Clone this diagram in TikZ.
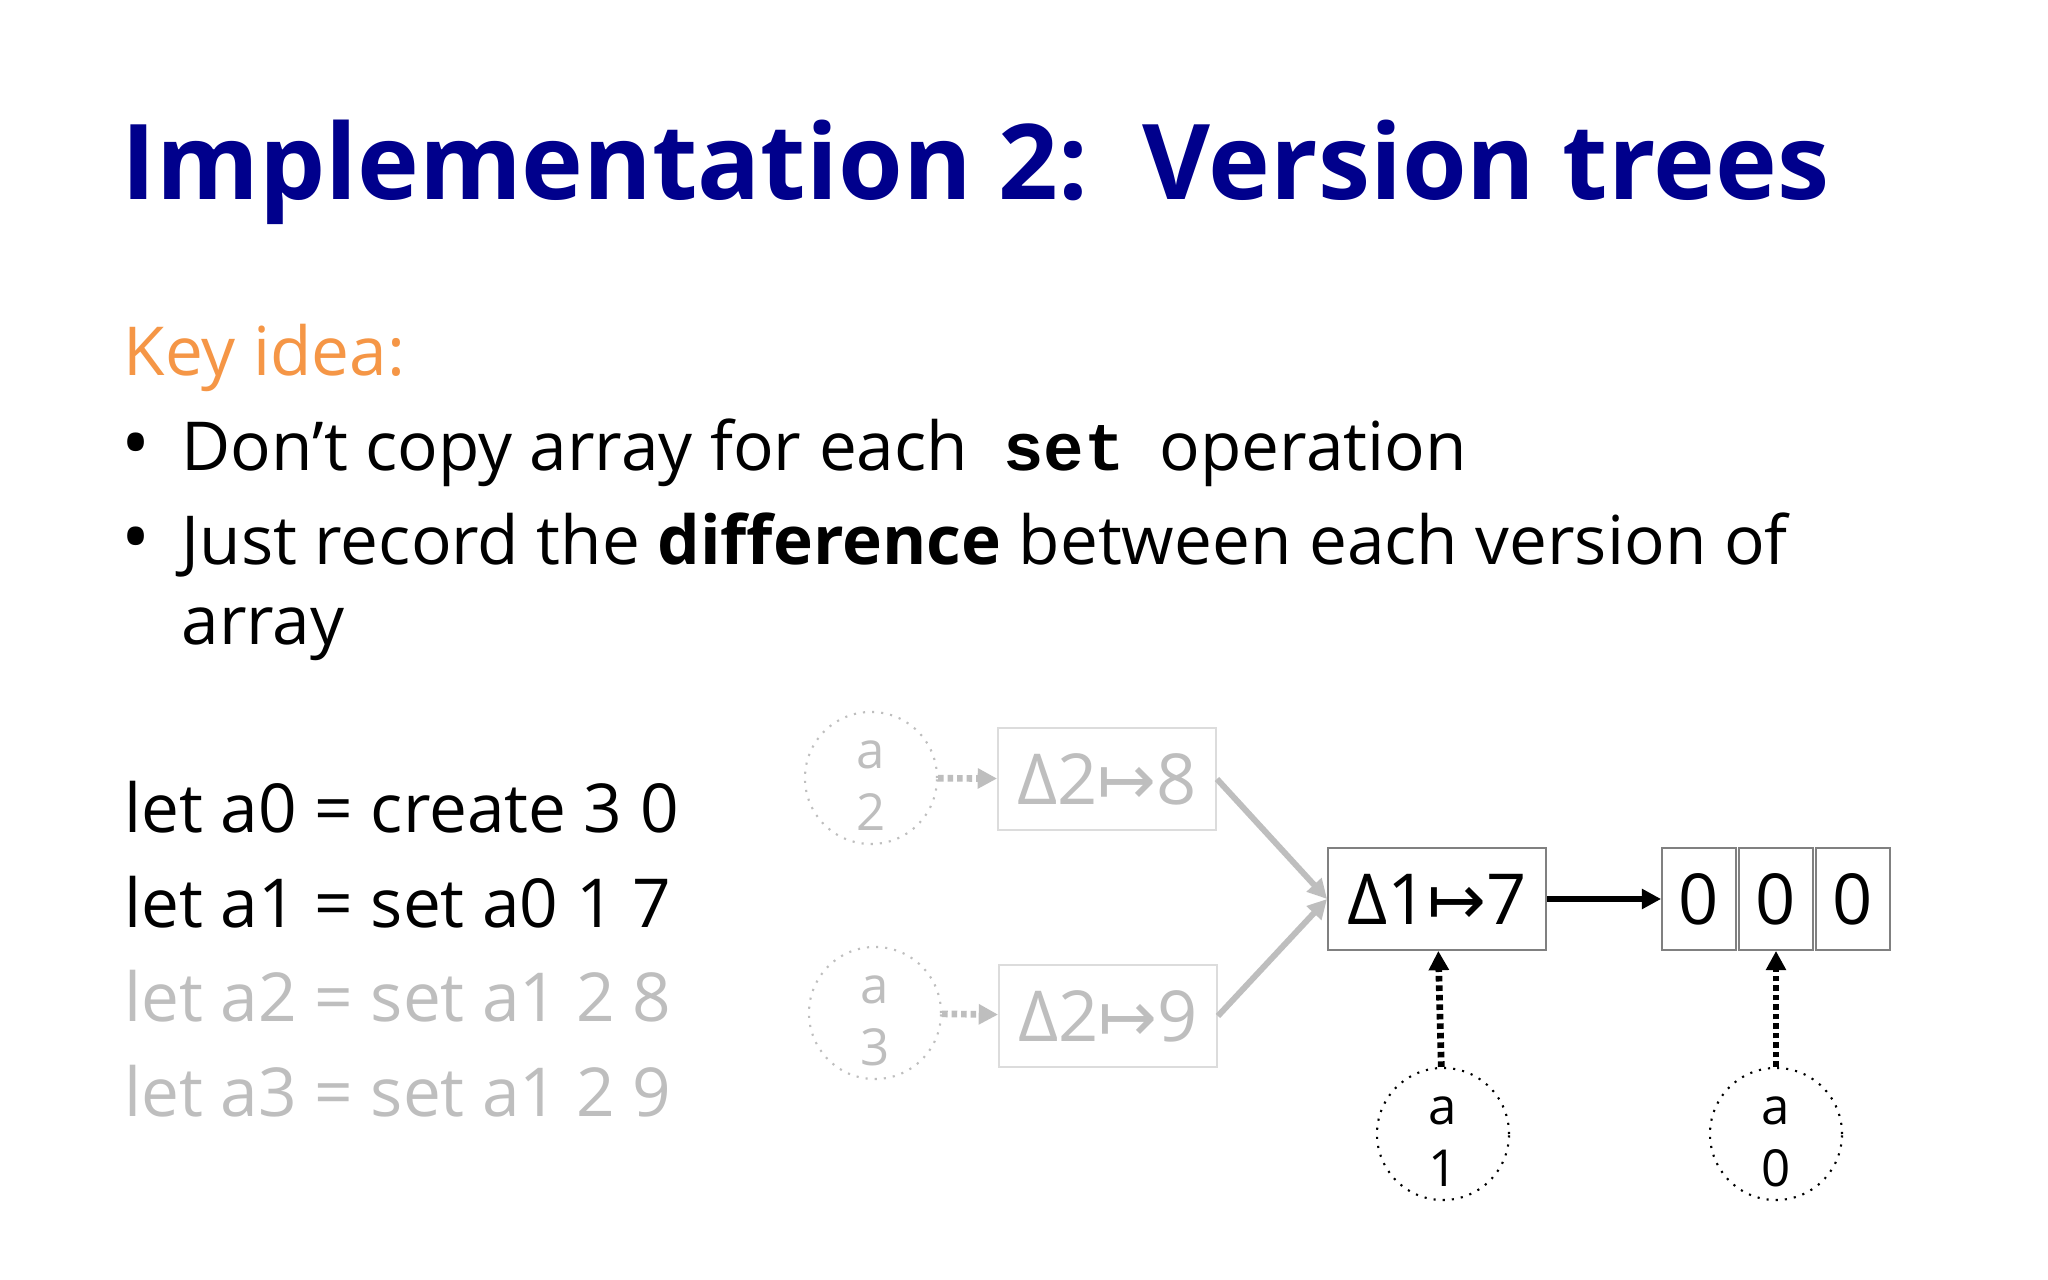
\documentclass[tikz,border=0pt]{standalone}
\usepackage{fontspec}
\setmainfont{Open Sans}
\newfontfamily\codefont{Liberation Mono}
\newfontfamily\symfont{DejaVu Sans}
\usepackage{tikz}
\usetikzlibrary{arrows.meta}

\definecolor{titleblue}{RGB}{0,0,140}
\definecolor{keyorange}{RGB}{245,150,70}
\definecolor{fadegray}{RGB}{190,190,190}
\definecolor{fadeline}{RGB}{220,220,220}

\newcommand{\mapsymb}{{\symfont ↦}}
% two-line version name, set a little below the middle of its circle
\newcommand{\vname}[1]{\raisebox{2.6pt}[0pt][0pt]{\begin{tabular}[t]{@{}c@{}}a\\#1\end{tabular}}}

\tikzset{
  txt/.style={anchor=base west, inner sep=0pt, font=\fontsize{19.2}{23}\selectfont},
  delta/.style={draw=gray, line width=0.5pt, minimum width=2.18cm, minimum height=1.02cm,
    inner sep=0pt, font=\fontsize{20}{24}\selectfont},
  cell/.style={draw=gray, line width=0.5pt, minimum width=0.74cm, minimum height=1.02cm,
    inner sep=0pt, font=\fontsize{20}{24}\selectfont},
  ver/.style={circle, draw, dotted, line width=0.6pt, fill=white, minimum size=1.32cm,
    inner sep=0pt, font=\fontsize{14.5}{17.6}\selectfont},
  ptr/.style={->, line width=1.9pt, dash pattern=on 1.6pt off 1.1pt},
  link/.style={->, line width=1.7pt}
}

\begin{document}
\begin{tikzpicture}[x=0.01cm, y=-0.01cm, >={Triangle[length=5.5pt,width=5.5pt]}]
\useasboundingbox[fill=white] (0,0) rectangle (2048,1280);

% heading and bullets
\node[txt, font=\fontsize{29.75}{35}\selectfont\bfseries, text=titleblue] (title) at (121,200) {Implementation 2:\ \ Version trees};
\node[txt, text=keyorange] (key) at (123,376) {Key idea:};
\node[txt, font=\fontsize{22}{23}\selectfont] (dot1) at (121,471) {•};
\node[txt] (b1) at (181,471) {Don’t copy array for each \ {\codefont\bfseries set}\ \ operation};
\node[txt, font=\fontsize{22}{23}\selectfont] (dot2) at (121,565) {•};
\node[txt] (b2) at (181,565) {Just record the \textbf{difference} between each version of};
\node[txt] (b2b) at (181,645) {array};

% code
\node[txt] (l0) at (124,833) {let a0 = create 3 0};
\node[txt] (l1) at (124,928) {let a1 = set a0 1 7};
\node[txt, text=fadegray] (l2) at (124,1022) {let a2 = set a1 2 8};
\node[txt, text=fadegray] (l3) at (124,1117) {let a3 = set a1 2 9};

% version tree
\node[ver, draw=fadegray, text=fadegray] (v2) at (871,778) {\vname{2}};
\node[ver, draw=fadegray, text=fadegray] (v3) at (875,1013) {\vname{3}};
\node[delta, draw=fadeline, text=fadegray] (d8) at (1107,779) {Δ2\mapsymb8};
\node[delta, draw=fadeline, text=fadegray] (d9) at (1108,1016) {Δ2\mapsymb9};
\node[delta] (d7) at (1437,899) {Δ1\mapsymb7};
\node[cell] (c0) at (1699,899) {0};
\node[cell] (c1) at (1776,899) {0};
\node[cell] (c2) at (1853,899) {0};
\node[ver] (v1) at (1443,1134) {\vname{1}};
\node[ver] (v0) at (1776,1134) {\vname{0}};

\draw[ptr, fadegray] (v2) -- (d8);
\draw[ptr, fadegray] (v3) -- (d9);
\draw[link, fadegray] (d8.east) -- (d7.west);
\draw[link, fadegray] (d9.east) -- (d7.west);
\draw[link] (d7) -- (c0);
\draw[ptr] (v1) -- (d7);
\draw[ptr] (v0) -- (c1);
\end{tikzpicture}
\end{document}
